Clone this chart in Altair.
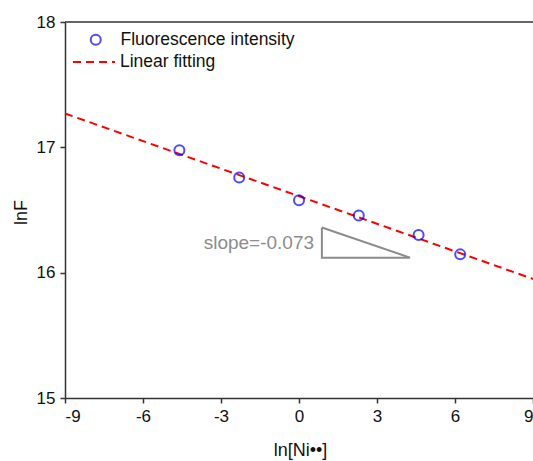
import altair as alt
import pandas as pd

ln_ni = [-4.6, -2.3, 0.0, 2.3, 4.6, 6.2]
ln_f = [16.976, 16.76, 16.577, 16.457, 16.30, 16.146]

# linear fit endpoints
fit_x = [-9, 9]
fit_y = [17.27, 15.95]

# slope triangle annotation
tri_x = [0.88, 0.88, 4.27, 0.88]
tri_y = [16.36, 16.12, 16.12, 16.36]
tri_order = [0, 1, 2, 3]
slope_label = "slope=-0.073"
label_x = [0.58]
label_y = [16.24]

x_ticks = [-9, -6, -3, 0, 3, 6, 9]
y_ticks = [15, 16, 17, 18]

FONT = "Liberation Sans"
W, H = 468, 376
HYPHEN = "datum.value < 0 ? '-' + abs(datum.value) : '' + datum.value"

pts = pd.DataFrame({"x": ln_ni, "y": ln_f, "series": "Fluorescence intensity"})
fit = pd.DataFrame({"x": fit_x, "y": fit_y, "series": "Linear fitting"})
tri = pd.DataFrame({"x": tri_x, "y": tri_y, "o": tri_order})
lab = pd.DataFrame({"x": label_x, "y": label_y, "t": [slope_label]})

xs = alt.Scale(domain=[-9, 9], nice=False, zero=False)
ys = alt.Scale(domain=[15, 18], nice=False, zero=False)

xaxis = alt.Axis(values=x_ticks, title="ln[Ni\u2022\u2022]", grid=False, labelExpr=HYPHEN,
                 titleX=235, titleY=52, titleBaseline="middle", titleAlign="center")
yaxis = alt.Axis(values=y_ticks, title="lnF", grid=False, labelExpr=HYPHEN,
                 titleX=-44, titleY=190, titleAngle=-90, titleBaseline="middle",
                 titleAlign="center")

fit_layer = alt.Chart(fit).mark_line(color="#ff0000", strokeWidth=2).encode(
    x=alt.X("x:Q", scale=xs, axis=xaxis),
    y=alt.Y("y:Q", scale=ys, axis=yaxis),
    strokeDash=alt.StrokeDash(
        "series:N",
        scale=alt.Scale(domain=["Linear fitting"], range=[[8, 5]]),
        legend=alt.Legend(title=None, orient="none", legendX=7, legendY=18,
                          symbolType="stroke", symbolSize=1764, symbolStrokeWidth=2,
                          symbolStrokeColor="#ff0000", labelOffset=4, labelLimit=400,
                          labelFontSize=17.5, labelFont=FONT, labelColor="#111"),
    ),
)

pt_layer = alt.Chart(pts).mark_point(filled=False, size=100, strokeWidth=2,
                                     color="#0000ff").encode(
    x=alt.X("x:Q", scale=xs),
    y=alt.Y("y:Q", scale=ys),
    shape=alt.Shape(
        "series:N",
        scale=alt.Scale(domain=["Fluorescence intensity"], range=["circle"]),
        legend=alt.Legend(title=None, orient="none", legendX=22, legendY=9,
                          symbolSize=100, symbolStrokeWidth=2,
                          symbolStrokeColor="#0000ff", symbolFillColor="transparent",
                          labelOffset=16, labelLimit=400, labelFontSize=17.5,
                          labelFont=FONT, labelColor="#111"),
    ),
)

tri_layer = alt.Chart(tri).mark_line(color="#8c8c8c", strokeWidth=2).encode(
    x=alt.X("x:Q", scale=xs),
    y=alt.Y("y:Q", scale=ys),
    order="o:Q",
)

txt_layer = alt.Chart(lab).mark_text(align="right", baseline="middle", fontSize=19,
                                     font=FONT, color="#8c8c8c").encode(
    x=alt.X("x:Q", scale=xs),
    y=alt.Y("y:Q", scale=ys),
    text="t:N",
)

top_line = alt.Chart(pd.DataFrame({"a": [0]})).mark_rule(
    color="#333333", strokeWidth=1.5).encode(
    x=alt.value(0), x2=alt.value(W), y=alt.value(0))

chart = alt.layer(fit_layer, tri_layer, txt_layer, pt_layer, top_line).resolve_legend(
    shape="independent", strokeDash="independent"
).properties(
    width=W, height=H,
    padding={"left": 65, "top": 22, "right": 0, "bottom": 63},
    autosize=alt.AutoSizeParams(type="none"),
    background="white",
).configure_view(stroke=None).configure_axis(
    domainColor="#333333", domainWidth=1.5, tickColor="#333333", tickWidth=1.5,
    tickSize=5, labelFont=FONT, labelFontSize=17, labelColor="#111",
    titleFont=FONT, titleFontSize=18, titleColor="#111", titleFontWeight="normal",
    labelPadding=5,
)

chart.save("out.html", embed_options={"renderer": "svg", "actions": False})
